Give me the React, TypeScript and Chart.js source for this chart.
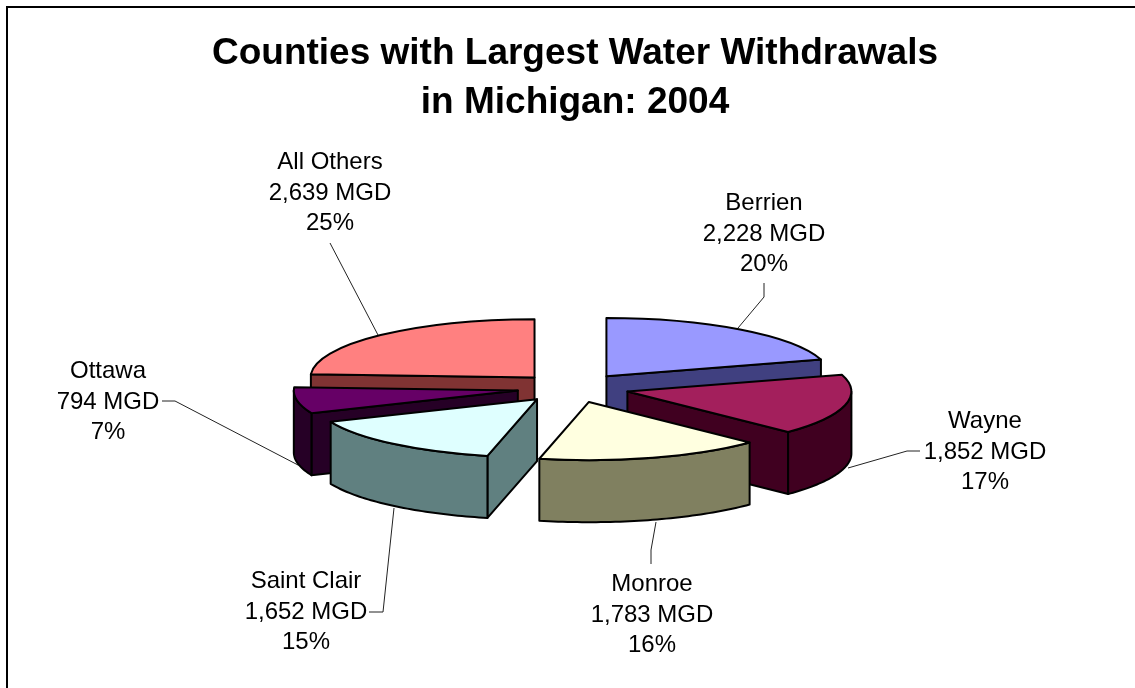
import React, { useEffect, useRef } from "react";
import { Chart, registerables } from "chart.js";

Chart.register(...registerables);

const categories = ["Berrien", "Wayne", "Monroe", "Saint Clair", "Ottawa", "All Others"];
const withdrawals = [2228, 1852, 1783, 1652, 794, 2639];
const valueLabels = ["2,228 MGD", "1,852 MGD", "1,783 MGD", "1,652 MGD", "794 MGD", "2,639 MGD"];
const percentLabels = ["20%", "17%", "16%", "15%", "7%", "25%"];
const topColors = ["#9999FF", "#A31F5C", "#FFFFE0", "#DFFFFF", "#660066", "#FF8080"];
const sideColors = ["#404080", "#400020", "#808060", "#608080", "#260026", "#803333"];
const titleLines = ["Counties with Largest Water Withdrawals", "in Michigan: 2004"];

// layout of the pseudo-3D pie
const CX = 573, CY = 388, RADIUS = 224, TILT = 0.26, DEPTH = 62, EXPLODE = 56;
const LINE_GAP = 30.7;
const drawOrder = [5, 0, 4, 1, 3, 2];
const labelCenters = [[764, 234], [985, 452], [652, 615], [306, 612], [108, 402], [330, 193]];
const leaders = [
  [[764, 283], [764, 297], [738, 328]],
  [[920, 451], [907, 451], [848, 468]],
  [[651, 564], [651, 550], [656, 522]],
  [[369, 612], [383, 612], [394, 508]],
  [[162, 401], [175, 401], [298, 465]],
  [[330, 243], [378, 335]],
];
const FONT = "'Liberation Sans', Arial, sans-serif";

const pie3d = {
  id: "pie3d",
  beforeDatasetsDraw(chart: any) {
    const ctx: CanvasRenderingContext2D = chart.ctx;
    const arcs = chart.getDatasetMeta(0).data;

    ctx.save();
    ctx.strokeStyle = "#222";
    ctx.lineWidth = 1;
    leaders.forEach((pts) => {
      ctx.beginPath();
      pts.forEach(([x, y], i) => (i ? ctx.lineTo(x, y) : ctx.moveTo(x, y)));
      ctx.stroke();
    });
    ctx.restore();

    drawOrder.forEach((i) => {
      const el = arcs[i];
      const a0 = el.startAngle + Math.PI / 2; // clockwise from the top
      const a1 = el.endAngle + Math.PI / 2;
      const mid = (a0 + a1) / 2;
      const ax = CX + Math.sin(mid) * EXPLODE;
      const ay = CY - Math.cos(mid) * EXPLODE * TILT;
      const R = el.outerRadius;
      const px = (a: number) => ax + Math.sin(a) * R;
      const py = (a: number) => ay - Math.cos(a) * R * TILT;

      const wall = (build: () => void) => {
        ctx.beginPath();
        build();
        ctx.closePath();
        ctx.fillStyle = sideColors[i];
        ctx.fill();
        ctx.lineWidth = 2;
        ctx.lineJoin = "round";
        ctx.strokeStyle = "#000";
        ctx.stroke();
      };
      const radial = (a: number) =>
        wall(() => {
          ctx.moveTo(ax, ay);
          ctx.lineTo(px(a), py(a));
          ctx.lineTo(px(a), py(a) + DEPTH);
          ctx.lineTo(ax, ay + DEPTH);
        });

      if (Math.sin(a0) < -1e-3) radial(a0);
      if (Math.sin(a1) > 1e-3) radial(a1);
      const from = Math.max(a0, Math.PI / 2);
      const to = Math.min(a1, (3 * Math.PI) / 2);
      if (to > from) {
        wall(() => {
          const n = 48;
          for (let k = 0; k <= n; k++) {
            const a = from + ((to - from) * k) / n;
            k ? ctx.lineTo(px(a), py(a)) : ctx.moveTo(px(a), py(a));
          }
          for (let k = n; k >= 0; k--) {
            const a = from + ((to - from) * k) / n;
            ctx.lineTo(px(a), py(a) + DEPTH);
          }
        });
      }

      // top face: the library's own arc element, in a flattened space
      ctx.save();
      ctx.translate(ax, ay);
      ctx.scale(1, TILT);
      ctx.translate(-el.x, -el.y);
      el.draw(ctx, chart.chartArea);
      ctx.beginPath();
      ctx.moveTo(el.x, el.y);
      ctx.arc(el.x, el.y, R, el.startAngle, el.endAngle);
      ctx.closePath();
      ctx.restore();
      ctx.lineWidth = 2;
      ctx.lineJoin = "round";
      ctx.strokeStyle = "#000";
      ctx.stroke();
    });

    ctx.save();
    ctx.fillStyle = "#000";
    ctx.font = `24px ${FONT}`;
    ctx.textAlign = "center";
    ctx.textBaseline = "middle";
    categories.forEach((name, i) => {
      const [x, y] = labelCenters[i];
      ctx.fillText(name, x, y - LINE_GAP);
      ctx.fillText(valueLabels[i], x, y);
      ctx.fillText(percentLabels[i], x, y + LINE_GAP);
    });
    ctx.restore();
    return false;
  },
};

export default function App() {
  const ref = useRef<HTMLCanvasElement>(null);
  useEffect(() => {
    document.body.style.margin = "0";
    document.body.style.background = "#fff";
    const chart = new Chart(ref.current!, {
      type: "pie",
      data: {
        labels: categories,
        datasets: [
          {
            data: withdrawals,
            backgroundColor: topColors,
            borderWidth: 0,
            radius: RADIUS,
          },
        ],
      },
      options: {
        responsive: false,
        animation: false,
        devicePixelRatio: 1,
        layout: { padding: { left: 15 } },
        plugins: {
          legend: { display: false },
          tooltip: { enabled: false },
          title: {
            display: true,
            text: titleLines,
            color: "#000",
            font: { family: FONT, size: 37, weight: "bold", lineHeight: 1.324 },
            padding: { top: 29, bottom: 0 },
          },
        },
      },
      plugins: [pie3d],
    } as any);
    return () => chart.destroy();
  }, []);
  return (
    <div style={{ position: "relative", width: 1135, height: 688, background: "#fff", overflow: "hidden" }}>
      <canvas ref={ref} width={1135} height={688} style={{ display: "block" }} />
      <div
        style={{
          position: "absolute",
          left: 6,
          top: 6,
          right: 0,
          bottom: 0,
          borderLeft: "2px solid #000",
          borderTop: "2px solid #000",
          boxSizing: "border-box",
          pointerEvents: "none",
        }}
      />
    </div>
  );
}
